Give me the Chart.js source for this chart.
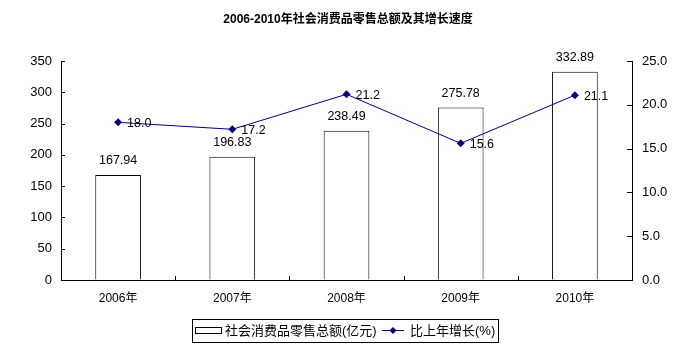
<!DOCTYPE html>
<html>
<head>
<meta charset="utf-8">
<script src="https://cdn.jsdelivr.net/npm/chart.js@4/dist/chart.umd.min.js"></script>
<style>
html,body{margin:0;padding:0;background:#fff;}
canvas{display:block;}
</style>
</head>
<body>
<canvas id="c" width="692" height="356"></canvas>
<script>
const titleText = '2006-2010年社会消费品零售总额及其增长速度';
const categories = ['2006年', '2007年', '2008年', '2009年', '2010年'];
const salesLabel = '社会消费品零售总额(亿元)';
const sales = [167.94, 196.83, 238.49, 275.78, 332.89];
const growthLabel = '比上年增长(%)';
const growth = [18.0, 17.2, 21.2, 15.6, 21.1];
const leftTicks = [0, 50, 100, 150, 200, 250, 300, 350];
const rightTicks = [0, 5, 10, 15, 20, 25];

const FONT = '"Liberation Sans", Arial, "Noto Sans CJK SC", sans-serif';
const NAVY = '#000080';

const decorPlugin = {
  id: 'decor',
  afterDatasetsDraw(chart) {
    const ctx = chart.ctx;
    const ca = chart.chartArea;
    ctx.save();
    ctx.strokeStyle = '#000';
    ctx.lineWidth = 1;
    const y = chart.scales.y, y1 = chart.scales.y1, x = chart.scales.x;
    ctx.beginPath();
    leftTicks.forEach(v => {
      const py = Math.round(y.getPixelForValue(v)) + 0.5;
      ctx.moveTo(ca.left, py); ctx.lineTo(ca.left + 4, py);
    });
    rightTicks.forEach(v => {
      const py = Math.round(y1.getPixelForValue(v)) + 0.5;
      ctx.moveTo(ca.right, py); ctx.lineTo(ca.right - 5, py);
    });
    for (let i = 1; i < categories.length; i++) {
      const px = Math.round((x.getPixelForValue(i - 1) + x.getPixelForValue(i)) / 2) + 0.5;
      ctx.moveTo(px, ca.bottom); ctx.lineTo(px, ca.bottom - 4);
    }
    ctx.stroke();

    ctx.fillStyle = '#000';
    ctx.font = '12.5px ' + FONT;
    const barMeta = chart.getDatasetMeta(1);
    barMeta.data.forEach((el, i) => {
      ctx.textAlign = 'center';
      ctx.textBaseline = 'middle';
      ctx.fillText(sales[i].toFixed(2), el.x, el.y - 14);
    });
    const lineMeta = chart.getDatasetMeta(0);
    lineMeta.data.forEach((el, i) => {
      ctx.textAlign = 'left';
      ctx.textBaseline = 'middle';
      ctx.fillText(growth[i].toFixed(1), el.x + 9, el.y + 1);
    });
    ctx.restore();
  },
  afterDraw(chart) {
    const ctx = chart.ctx;
    ctx.save();
    ctx.fillStyle = '#000';
    ctx.font = 'bold 12px ' + FONT;
    ctx.textAlign = 'center';
    ctx.textBaseline = 'middle';
    ctx.fillText(titleText, 348, 20);

    ctx.strokeStyle = '#000';
    ctx.lineWidth = 1;
    ctx.strokeRect(192.5, 319.5, 306, 23);
    ctx.fillStyle = '#fff';
    ctx.fillRect(195.5, 327.5, 26, 6);
    ctx.strokeRect(195.5, 327.5, 26, 6);
    ctx.fillStyle = '#000';
    ctx.font = '13px ' + FONT;
    ctx.textAlign = 'left';
    ctx.textBaseline = 'middle';
    ctx.fillText(chart.data.datasets[1].label, 225, 331);
    ctx.strokeStyle = NAVY;
    ctx.beginPath();
    ctx.moveTo(382, 330.5); ctx.lineTo(404, 330.5);
    ctx.stroke();
    ctx.fillStyle = NAVY;
    ctx.beginPath();
    ctx.moveTo(393, 327); ctx.lineTo(396.5, 330.5); ctx.lineTo(393, 334); ctx.lineTo(389.5, 330.5); ctx.closePath();
    ctx.fill();
    ctx.fillStyle = '#000';
    ctx.fillText(chart.data.datasets[0].label, 410, 331);
    ctx.restore();
  }
};

new Chart(document.getElementById('c'), {
  data: {
    labels: categories,
    datasets: [
      {
        type: 'line',
        label: growthLabel,
        data: growth,
        yAxisID: 'y1',
        borderColor: NAVY,
        backgroundColor: NAVY,
        borderWidth: 1,
        pointStyle: 'rectRot',
        pointRadius: 4,
        pointBorderWidth: 0,
        tension: 0,
        order: 0
      },
      {
        type: 'bar',
        label: salesLabel,
        data: sales,
        yAxisID: 'y',
        backgroundColor: '#fff',
        borderColor: '#000',
        borderWidth: 1,
        barPercentage: 0.4,
        categoryPercentage: 1.0,
        order: 1
      }
    ]
  },
  options: {
    responsive: false,
    animation: false,
    devicePixelRatio: 1,
    layout: { padding: { top: 61, left: 0, right: 0, bottom: 0 } },
    plugins: {
      legend: { display: false },
      title: { display: false },
      tooltip: { enabled: false }
    },
    scales: {
      x: {
        type: 'category',
        offset: true,
        grid: { display: true, drawOnChartArea: false, drawTicks: false },
        border: { display: true, color: '#000', width: 1 },
        ticks: { color: '#000', font: { family: FONT, size: 12 }, padding: 11, maxRotation: 0 },
        afterFit(s) { s.height = 76; }
      },
      y: {
        position: 'left',
        min: 0, max: 350,
        grid: { display: true, drawOnChartArea: false, drawTicks: false },
        border: { display: true, color: '#000', width: 1 },
        afterBuildTicks(s) { s.ticks = leftTicks.map(v => ({ value: v })); },
        ticks: { color: '#000', font: { family: FONT, size: 13 }, padding: 9 },
        afterFit(s) { s.width = 61; }
      },
      y1: {
        position: 'right',
        min: 0, max: 25,
        grid: { display: true, drawOnChartArea: false, drawTicks: false },
        border: { display: true, color: '#000', width: 1 },
        afterBuildTicks(s) { s.ticks = rightTicks.map(v => ({ value: v })); },
        ticks: { color: '#000', font: { family: FONT, size: 13 }, padding: 10,
                 callback: v => Number(v).toFixed(1) },
        afterFit(s) { s.width = 60; }
      }
    }
  },
  plugins: [decorPlugin]
});
</script>
</body>
</html>
